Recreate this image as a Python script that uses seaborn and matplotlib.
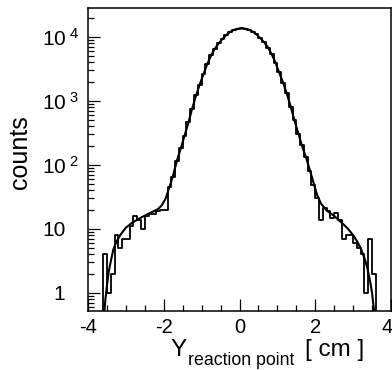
import numpy as np
import pandas as pd
import matplotlib
matplotlib.use("Agg")
import matplotlib.pyplot as plt
import matplotlib.ticker as mticker
from matplotlib.transforms import ScaledTranslation
import seaborn as sns

# ---------------- data ----------------
# histogram: bin centres (0.1 cm bins from -3.7 to 3.7) and counts
bin_width = 0.1
bin_centers = np.round(np.arange(-3.65, 3.66, bin_width), 2)
counts = [
    0, 4, 1, 2, 8, 5, 7, 7, 11, 16,            # -3.65 .. -2.75
    14, 10, 16, 17, 17, 19, 20, 20, 45, 66,    # -2.65 .. -1.75
    115, 185, 280, 470, 740, 1230, 1790, 2680, 3750, 5200,   # -1.65 .. -0.75
    6550, 8020, 9280, 10800, 11900, 12950, 13380, 13700, 13450, 13050,  # -0.65 .. 0.25
    12100, 11050, 9500, 8350, 6850, 5420, 3950, 2790, 1920, 1310,  # 0.35 .. 1.25
    820, 510, 310, 205, 135, 82, 48, 30, 14, 21,   # 1.35 .. 2.25
    19, 15, 18, 14, 7, 8, 8, 6, 5, 4,          # 2.35 .. 3.25
    1, 7, 2, 0,                                # 3.35 .. 3.65
]

# fitted curve
fit_x = [-3.59, -3.57, -3.54, -3.50, -3.45, -3.40, -3.33, -3.25, -3.15, -3.00,
         -2.85, -2.70, -2.50, -2.30, -2.15, -2.05, -1.95, -1.85, -1.75, -1.65,
         -1.55, -1.45, -1.35, -1.25, -1.15, -1.05, -0.95, -0.85, -0.75, -0.65,
         -0.55, -0.45, -0.35, -0.25, -0.15, -0.05, 0.05, 0.15, 0.25, 0.35,
         0.45, 0.55, 0.65, 0.75, 0.85, 0.95, 1.05, 1.15, 1.25, 1.35,
         1.45, 1.55, 1.65, 1.75, 1.85, 1.95, 2.05, 2.15, 2.30, 2.50,
         2.70, 2.85, 3.00, 3.10, 3.20, 3.30, 3.38, 3.45, 3.50, 3.55, 3.57]
fit_y = [0.3, 0.5, 0.8, 1.3, 2.2, 3.1, 4.8, 6.3, 8.0, 10.5,
         12.3, 14.0, 16.2, 18.5, 20.5, 23.5, 30, 45, 70, 118,
         182, 288, 457, 760, 1200, 1820, 2630, 3800, 5130, 6600,
         7940, 9330, 10700, 12000, 12900, 13430, 13650, 13500, 13000, 12160,
         10960, 9550, 8300, 6900, 5370, 3980, 2750, 1950, 1290, 830,
         500, 316, 200, 135, 86, 54, 34, 25, 19.5, 16,
         12.5, 10.3, 8.0, 6.5, 5.0, 3.5, 2.4, 1.5, 1.0, 0.55, 0.35]

x_ticks = [-4, -2, 0, 2, 4]
y_ticks = [1, 10, 100, 1000, 10000]
y_ticklabels = ["1", "10", r"$\mathregular{10}^{\ 2}$",
                r"$\mathregular{10}^{\ 3}$", r"$\mathregular{10}^{\ 4}$"]

hist_df = pd.DataFrame({"y": bin_centers, "counts": counts})
fit_df = pd.DataFrame({"x": fit_x, "f": fit_y})

# ---------------- style ----------------
sns.set_style("white")
plt.rcParams["font.family"] = ["Liberation Sans", "DejaVu Sans"]
plt.rcParams["mathtext.fontset"] = "custom"
plt.rcParams["mathtext.rm"] = "Liberation Sans"
plt.rcParams["mathtext.it"] = "Liberation Sans:italic"
plt.rcParams["mathtext.bf"] = "Liberation Sans:bold"
plt.rcParams["axes.unicode_minus"] = False
for key in ["text.color", "axes.labelcolor", "xtick.color", "ytick.color",
            "axes.edgecolor"]:
    plt.rcParams[key] = "black"

W, H = 392, 370
fig = plt.figure(figsize=(W / 100, H / 100), dpi=100)
ax = fig.add_axes([88 / W, 1 - 311 / H, (391 - 88) / W, (311 - 8) / H])

sns.histplot(data=hist_df, x="y", weights="counts", binwidth=bin_width,
             binrange=(-3.7, 3.7), element="step", fill=False,
             color="black", linewidth=1.3, ax=ax)
sns.lineplot(data=fit_df, x="x", y="f", color="black", linewidth=1.5,
             estimator=None, sort=False, ax=ax)

ax.set_yscale("log", nonpositive="clip")
ax.set_xlim(-4, 4)
ax.set_ylim(0.523, 28400)

for s in ax.spines.values():
    s.set_linewidth(1.1)
    s.set_color("black")

ax.xaxis.set_major_locator(mticker.FixedLocator(x_ticks))
ax.xaxis.set_minor_locator(mticker.MultipleLocator(0.5))
ax.set_xticklabels([str(v) for v in x_ticks])
ax.yaxis.set_major_locator(mticker.FixedLocator(y_ticks))
ax.yaxis.set_minor_locator(mticker.LogLocator(base=10, subs=np.arange(2, 10)))
ax.yaxis.set_minor_formatter(mticker.NullFormatter())
ax.set_yticklabels(y_ticklabels)

ax.tick_params(which="both", direction="in", bottom=True, left=True,
               top=False, right=False, color="black", width=0.9)
ax.tick_params(which="major", length=8.5)
ax.tick_params(which="minor", length=4.3)
ax.tick_params(axis="x", which="major", labelsize=14.5, pad=5)
ax.tick_params(axis="y", which="major", labelsize=15, pad=33)
for lab in ax.get_yticklabels():
    lab.set_horizontalalignment("left")
ylabs = ax.get_yticklabels()
ylabs[0].set_transform(ylabs[0].get_transform() +
                       ScaledTranslation(11 / 100, 0, fig.dpi_scale_trans))
# keep the last x label inside the figure edge
xlabs = ax.get_xticklabels()
xlabs[-1].set_horizontalalignment("right")
xlabs[-1].set_transform(xlabs[-1].get_transform() +
                        ScaledTranslation(2 / 100, 0, fig.dpi_scale_trans))

ax.set_xlabel("")
ax.set_ylabel("counts", fontsize=18)
ax.yaxis.set_label_coords(-0.185, 0.525)

# x title: Y with subscript, then unit
fig.text(170 / W, 1 - 356 / H, "Y", fontsize=17.5, va="baseline", ha="left")
fig.text(188 / W, 1 - 365 / H, "reaction point", fontsize=12.8,
         va="baseline", ha="left")
fig.text(305 / W, 1 - 356 / H, "[ cm ]", fontsize=17.5, va="baseline", ha="left")

fig.savefig("out.png", dpi=100)
